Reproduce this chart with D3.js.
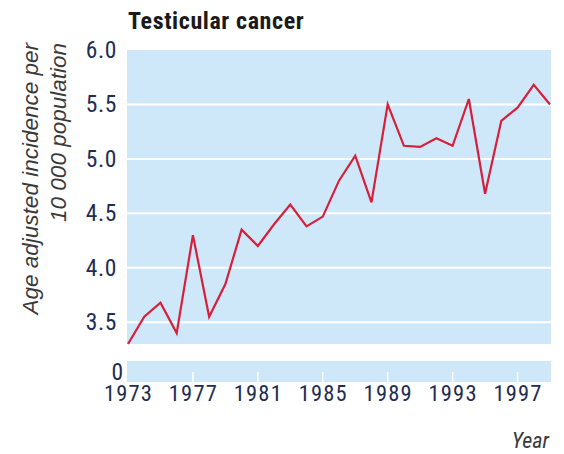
<!DOCTYPE html>
<html>
<head>
<meta charset="utf-8">
<script src="https://cdn.jsdelivr.net/npm/d3@7"></script>
<style>
  body { margin: 0; background: #fff; }
  svg { display: block; }
  text { font-family: "Liberation Sans", Arial, sans-serif; }
  text.narrow { font-family: "Roboto Condensed", "Arial Narrow", "Liberation Sans Narrow", sans-serif; }
</style>
</head>
<body>
<div id="chart"></div>
<script>
"use strict";

// data
const years = [1973, 1974, 1975, 1976, 1977, 1978, 1979, 1980, 1981, 1982, 1983, 1984, 1985,
  1986, 1987, 1988, 1989, 1990, 1991, 1992, 1993, 1994, 1995, 1996, 1997, 1998, 1999];
const incidence = [3.3, 3.55, 3.68, 3.4, 4.3, 3.55, 3.85, 4.35, 4.2, 4.4, 4.58, 4.38, 4.47,
  4.8, 5.03, 4.6, 5.5, 5.12, 5.11, 5.19, 5.12, 5.55, 4.68, 5.35, 5.47, 5.68, 5.5];
const yTicks = [3.5, 4.0, 4.5, 5.0, 5.5, 6.0];
const xTicks = [1973, 1977, 1981, 1985, 1989, 1993, 1997];

const width = 564, height = 454;
const plotLeft = 127, plotRight = 551, plotTop = 50, plotBottom = 344;
const stripTop = 361, stripBottom = 382;

const navy = "#1f2d55";
const panel = "#cfe8f9";

const svg = d3.select("#chart").append("svg")
  .attr("width", width)
  .attr("height", height);

const x = d3.scaleLinear().domain([1973, 1999]).range([plotLeft + 1, plotRight - 1]);
const y = d3.scaleLinear().domain([3.3, 6.0]).range([plotBottom, plotTop]);

// main panel
svg.append("rect")
  .attr("x", plotLeft).attr("y", plotTop)
  .attr("width", plotRight - plotLeft).attr("height", plotBottom - plotTop)
  .attr("fill", panel);

// white gridlines
svg.append("g")
  .selectAll("line")
  .data(yTicks.filter(d => d < 6))
  .join("line")
  .attr("x1", plotLeft).attr("x2", plotRight)
  .attr("y1", d => y(d)).attr("y2", d => y(d))
  .attr("stroke", "#fff")
  .attr("stroke-width", 2);

// zero strip (broken axis)
svg.append("rect")
  .attr("x", plotLeft).attr("y", stripTop)
  .attr("width", plotRight - plotLeft).attr("height", stripBottom - stripTop)
  .attr("fill", panel);

svg.append("g")
  .selectAll("line")
  .data(xTicks.slice(1))
  .join("line")
  .attr("x1", d => x(d)).attr("x2", d => x(d))
  .attr("y1", stripTop + 11).attr("y2", stripBottom)
  .attr("stroke", "#fff")
  .attr("stroke-width", 1.5);

// y axis labels
const yAxis = d3.axisLeft(y).tickValues(yTicks).tickSize(0).tickPadding(10)
  .tickFormat(d3.format(".1f"));
const gy = svg.append("g")
  .attr("transform", `translate(${plotLeft},0)`)
  .call(yAxis);
gy.select(".domain").remove();
gy.selectAll("text")
  .attr("class", "narrow")
  .attr("font-size", 23.5)
  .attr("letter-spacing", 0.6)
  .attr("fill", navy);

svg.append("text")
  .attr("class", "narrow")
  .attr("x", plotLeft - 4).attr("y", (stripTop + stripBottom) / 2)
  .attr("dy", "0.35em")
  .attr("text-anchor", "end")
  .attr("font-size", 23.5)
  .attr("fill", navy)
  .text("0");

// x axis labels
const xAxis = d3.axisBottom(x).tickValues(xTicks).tickSize(0).tickPadding(3)
  .tickFormat(d3.format("d"));
const gx = svg.append("g")
  .attr("transform", `translate(0,${stripBottom})`)
  .call(xAxis);
gx.select(".domain").remove();
gx.selectAll("text")
  .attr("class", "narrow")
  .attr("font-size", 22.5)
  .attr("letter-spacing", 1.2)
  .attr("fill", navy);

// line
const line = d3.line()
  .x((d, i) => x(years[i]))
  .y(d => y(d));

svg.append("path")
  .datum(incidence)
  .attr("d", line)
  .attr("fill", "none")
  .attr("stroke", "#d71f3c")
  .attr("stroke-width", 2.2)
  .attr("stroke-linejoin", "miter");

// titles
svg.append("text")
  .attr("class", "narrow")
  .attr("x", plotLeft + 1).attr("y", 29)
  .attr("font-size", 24)
  .attr("font-weight", "bold")
  .attr("letter-spacing", 0.6)
  .attr("fill", "#1a1a1a")
  .text("Testicular cancer");

const yTitle = svg.append("text")
  .attr("transform", `translate(38,43) rotate(-90)`)
  .attr("text-anchor", "end")
  .attr("font-size", 22.5)
  .attr("font-style", "italic")
  .attr("fill", "#3a3a3a");
yTitle.append("tspan").attr("x", 0).attr("dy", 0).text("Age adjusted incidence per");
yTitle.append("tspan").attr("x", 0).attr("dy", 28).text("10 000 population");

svg.append("text")
  .attr("class", "narrow")
  .attr("x", plotRight - 2).attr("y", 448)
  .attr("text-anchor", "end")
  .attr("font-size", 22)
  .attr("font-style", "italic")
  .attr("fill", "#3a3a3a")
  .text("Year");
</script>
</body>
</html>
